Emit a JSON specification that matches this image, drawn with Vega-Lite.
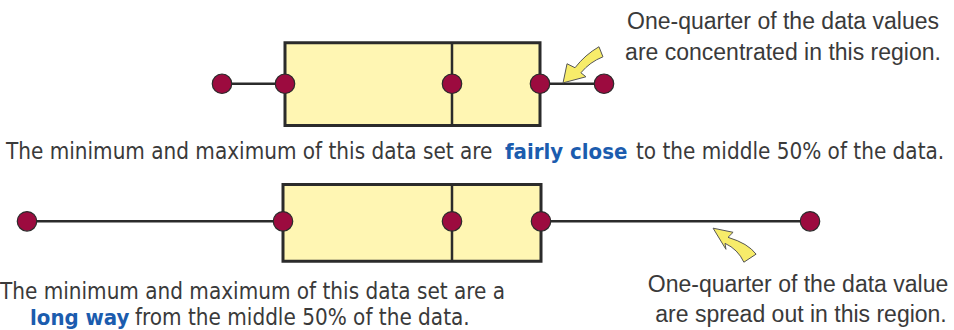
{
  "$schema": "https://vega.github.io/schema/vega-lite/v6.json",
  "width": 954,
  "height": 330,
  "padding": 0,
  "autosize": {"type": "fit", "contains": "padding"},
  "view": {"stroke": null},
  "config": {"axis": {"disable": true}},
  "datasets": {
    "boxes": [
      {"panel": "top", "min": 222, "q1": 285, "median": 452, "q3": 540, "max": 604, "y": 84, "top": 43, "bottom": 126},
      {"panel": "bottom", "min": 27, "q1": 283, "median": 452, "q3": 541, "max": 810, "y": 222, "top": 185, "bottom": 262}
    ],
    "dots": [
      {"panel": "top", "stat": "min", "x": 222, "y": 84},
      {"panel": "top", "stat": "q1", "x": 285, "y": 84},
      {"panel": "top", "stat": "median", "x": 452, "y": 84},
      {"panel": "top", "stat": "q3", "x": 540, "y": 84},
      {"panel": "top", "stat": "max", "x": 604, "y": 84},
      {"panel": "bottom", "stat": "min", "x": 27, "y": 222},
      {"panel": "bottom", "stat": "q1", "x": 283, "y": 222},
      {"panel": "bottom", "stat": "median", "x": 452, "y": 222},
      {"panel": "bottom", "stat": "q3", "x": 541, "y": 222},
      {"panel": "bottom", "stat": "max", "x": 810, "y": 222}
    ],
    "arrows": [
      {"panel": "top", "x": 583, "y": 65},
      {"panel": "bottom", "x": 734, "y": 245}
    ],
    "captions": [
      {"text": "The minimum and maximum of this data set are", "x": 6, "y": 152, "kind": "plain"},
      {"text": "fairly close", "x": 505, "y": 152, "kind": "emph"},
      {"text": "to the middle 50% of the data.", "x": 636, "y": 152, "kind": "plain"},
      {"text": "The minimum and maximum of this data set are a", "x": 0, "y": 293, "kind": "plain"},
      {"text": "long way", "x": 30, "y": 319, "kind": "emph"},
      {"text": "from the middle 50% of the data.", "x": 135, "y": 319, "kind": "plain"}
    ],
    "notes": [
      {"text": "One-quarter of the data values", "x": 783, "y": 22},
      {"text": "are concentrated in this region.", "x": 783, "y": 53},
      {"text": "One-quarter of the data value", "x": 798, "y": 286},
      {"text": "are spread out in this region.", "x": 801, "y": 316}
    ]
  },
  "layer": [
    {
      "data": {"name": "boxes"},
      "mark": {"type": "rule", "color": "#2b2b2b", "strokeWidth": 2.5},
      "encoding": {
        "x": {"field": "min", "type": "quantitative", "scale": {"domain": [0, 954], "nice": false, "zero": false}, "axis": null},
        "x2": {"field": "max"},
        "y": {"field": "y", "type": "quantitative", "scale": {"domain": [330, 0], "nice": false, "zero": false}, "axis": null}
      }
    },
    {
      "data": {"name": "boxes"},
      "mark": {"type": "rect", "fill": "#FFF6B3", "stroke": "#2b2b2b", "strokeWidth": 3},
      "encoding": {
        "x": {"field": "q1", "type": "quantitative"},
        "x2": {"field": "q3"},
        "y": {"field": "top", "type": "quantitative"},
        "y2": {"field": "bottom"}
      }
    },
    {
      "data": {"name": "boxes"},
      "mark": {"type": "rule", "color": "#2b2b2b", "strokeWidth": 2.5},
      "encoding": {
        "x": {"field": "median", "type": "quantitative"},
        "y": {"field": "top", "type": "quantitative"},
        "y2": {"field": "bottom"}
      }
    },
    {
      "data": {"name": "dots"},
      "mark": {"type": "point", "shape": "circle", "filled": true, "fill": "#9C0B3F", "stroke": "#2b2b2b", "strokeWidth": 1.2, "opacity": 1, "size": 380},
      "encoding": {
        "x": {"field": "x", "type": "quantitative"},
        "y": {"field": "y", "type": "quantitative"}
      }
    },
    {
      "data": {"name": "arrows"},
      "transform": [{"filter": "datum.panel === 'top'"}],
      "mark": {"type": "point", "filled": true, "fill": "#F7EC6A", "stroke": "#555555", "strokeWidth": 1, "opacity": 1, "size": 1764,
        "shape": "M -0.95 0.86 L -0.76 -0.05 L -0.38 0.14 Q 0.1 -0.48 0.76 -0.86 L 0.95 -0.38 Q 0.33 -0.14 -0.1 0.38 L 0.14 0.57 Z"},
      "encoding": {
        "x": {"field": "x", "type": "quantitative"},
        "y": {"field": "y", "type": "quantitative"}
      }
    },
    {
      "data": {"name": "arrows"},
      "transform": [{"filter": "datum.panel === 'bottom'"}],
      "mark": {"type": "point", "filled": true, "fill": "#F7EC6A", "stroke": "#555555", "strokeWidth": 1, "opacity": 1, "size": 2116,
        "shape": "M -0.91 -0.7 L -0.04 -0.52 L -0.26 -0.3 Q 0.61 -0.04 0.96 0.43 L 0.43 0.78 Q 0.17 0.22 -0.39 -0.04 L -0.35 0.22 Z"},
      "encoding": {
        "x": {"field": "x", "type": "quantitative"},
        "y": {"field": "y", "type": "quantitative"}
      }
    },
    {
      "data": {"name": "captions"},
      "transform": [{"filter": "datum.kind === 'plain'"}],
      "mark": {"type": "text", "align": "left", "baseline": "middle", "font": "DejaVu Sans Condensed", "fontSize": 22.3, "color": "#3a3a3a"},
      "encoding": {
        "x": {"field": "x", "type": "quantitative"},
        "y": {"field": "y", "type": "quantitative"},
        "text": {"field": "text"}
      }
    },
    {
      "data": {"name": "captions"},
      "transform": [{"filter": "datum.kind === 'emph'"}],
      "mark": {"type": "text", "align": "left", "baseline": "middle", "font": "DejaVu Sans Condensed", "fontSize": 22, "fontWeight": "bold", "color": "#1B5CAE"},
      "encoding": {
        "x": {"field": "x", "type": "quantitative"},
        "y": {"field": "y", "type": "quantitative"},
        "text": {"field": "text"}
      }
    },
    {
      "data": {"name": "notes"},
      "mark": {"type": "text", "align": "center", "baseline": "middle", "font": "Liberation Sans", "fontSize": 23, "color": "#3a3a3a"},
      "encoding": {
        "x": {"field": "x", "type": "quantitative"},
        "y": {"field": "y", "type": "quantitative"},
        "text": {"field": "text"}
      }
    }
  ]
}
